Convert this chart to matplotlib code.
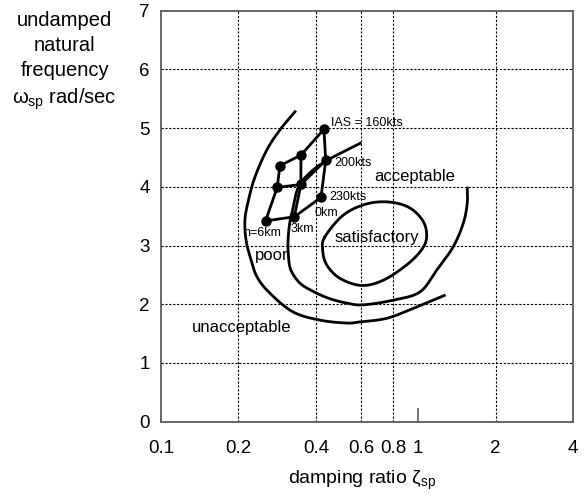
import numpy as np
import matplotlib
matplotlib.use('Agg')
import matplotlib.pyplot as plt

plt.rcParams['font.family'] = ['Liberation Sans', 'DejaVu Sans']
plt.rcParams['mathtext.fontset'] = 'custom'
plt.rcParams['mathtext.rm'] = 'Liberation Sans'
plt.rcParams['mathtext.it'] = 'Liberation Sans:italic'

# flight conditions: rows = altitude (6km, 3km, 0km), cols = IAS (230, 200, 160 kts)
zeta_6km = [0.255, 0.283, 0.290]
omega_6km = [3.42, 3.99, 4.36]
zeta_3km = [0.330, 0.350, 0.350]
omega_3km = [3.49, 4.04, 4.54]
zeta_0km = [0.419, 0.437, 0.430]
omega_0km = [3.82, 4.45, 4.98]

# handling quality boundaries traced as (zeta, omega)
sat_zeta = [0.434, 0.512, 0.631, 0.777, 0.929, 1.047, 1.079, 1.032, 0.902, 0.732,
            0.603, 0.497, 0.441, 0.425]
sat_omega = [3.15, 3.52, 3.71, 3.74, 3.64, 3.41, 3.15, 2.93, 2.67, 2.41,
             2.32, 2.44, 2.67, 2.93]

acc_zeta = [0.594, 0.497, 0.434, 0.391, 0.352, 0.337, 0.327, 0.317, 0.312, 0.313,
            0.320, 0.347, 0.390, 0.450, 0.527, 0.612, 0.800, 1.016, 1.18, 1.369,
            1.498, 1.552, 1.552]
acc_omega = [4.74, 4.57, 4.43, 4.29, 4.09, 3.92, 3.66, 3.40, 3.10, 2.82,
             2.58, 2.36, 2.22, 2.10, 2.02, 1.99, 2.07, 2.21, 2.58, 2.98,
             3.38, 3.72, 3.98]

poor_zeta = [0.332, 0.290, 0.258, 0.232, 0.219, 0.212, 0.214, 0.222, 0.236, 0.265,
             0.326, 0.415, 0.527, 0.594, 0.754, 0.957, 1.264]
poor_omega = [5.28, 4.97, 4.63, 4.17, 3.78, 3.44, 3.10, 2.81, 2.47, 2.19,
              1.87, 1.73, 1.68, 1.70, 1.76, 1.93, 2.15]

xticks = [0.1, 0.2, 0.4, 0.6, 0.8, 1, 2, 4]
xtick_labels = ['0.1', '0.2', '0.4', '0.6', '0.8', '1', '2', '4']
xgrid = [0.2, 0.4, 0.6, 0.8, 2]
yticks = [0, 1, 2, 3, 4, 5, 6, 7]


def smooth(zeta, omega, closed=False, n=12):
    # catmull-rom through the traced points, done in log-zeta so it looks right on the log axis
    p = np.column_stack([np.log10(zeta), omega])
    if closed:
        p = np.vstack([p[-1], p, p[0], p[1]])
    else:
        p = np.vstack([2 * p[0] - p[1], p, 2 * p[-1] - p[-2]])
    t = np.linspace(0, 1, n, endpoint=False)[:, None]
    out = []
    for i in range(1, len(p) - 2):
        p0, p1, p2, p3 = p[i - 1], p[i], p[i + 1], p[i + 2]
        seg = 0.5 * ((2 * p1) + (-p0 + p2) * t + (2 * p0 - 5 * p1 + 4 * p2 - p3) * t ** 2
                     + (-p0 + 3 * p1 - 3 * p2 + p3) * t ** 3)
        out.append(seg)
    out.append(p[-2][None, :])
    out = np.vstack(out)
    return 10 ** out[:, 0], out[:, 1]


fig = plt.figure(figsize=(5.87, 4.97), dpi=100)
ax = fig.add_axes([0.2743, 0.1515, 0.7018, 0.827])
ax.set_xscale('log')
ax.set_xlim(0.1, 4)
ax.set_ylim(0, 7)

grid_kw = dict(color='black', lw=0.8, ls=(0, (2, 1.5)), zorder=1)
for g in xgrid:
    ax.axvline(g, **grid_kw)
for g in yticks[1:-1]:
    ax.axhline(g, **grid_kw)
ax.axvline(1, ymin=0, ymax=0.032, color='0.35', lw=1.2)

ax.set_xticks(xticks)
ax.set_xticklabels(xtick_labels)
ax.xaxis.set_minor_locator(matplotlib.ticker.NullLocator())
ax.set_yticks(yticks)
ax.tick_params(axis='x', length=0, labelsize=13.5, pad=13.5)
ax.tick_params(axis='y', length=0, labelsize=13.5, pad=8)
for s in ax.spines.values():
    s.set_color('0.35')
    s.set_linewidth(1.3)

# boundaries
ax.plot(*smooth(sat_zeta, sat_omega, closed=True), color='black', lw=2, zorder=3)
ax.plot(*smooth(acc_zeta, acc_omega), color='black', lw=2, zorder=3)
ax.plot(*smooth(poor_zeta, poor_omega), color='black', lw=2, zorder=3)

# flight condition grid
alt_z = [zeta_6km, zeta_3km, zeta_0km]
alt_w = [omega_6km, omega_3km, omega_0km]
for zz, ww in zip(alt_z, alt_w):
    ax.plot(zz, ww, color='black', lw=2, marker='o', ms=6.5, zorder=4)
for i in range(3):
    ax.plot([z[i] for z in alt_z], [w[i] for w in alt_w], color='black', lw=2, zorder=4)

small = dict(fontsize=9, va='center', ha='left')
ax.text(0.457, 5.09, 'IAS = 160kts', **small)
ax.text(0.471, 4.40, '200kts', **small)
ax.text(0.450, 3.82, '230kts', **small)
ax.text(0.397, 3.56, '0km', **small)
ax.text(0.320, 3.28, '3km', **small)
ax.text(0.208, 3.21, 'h=6km', **small)

big = dict(fontsize=12, va='center', ha='left')
ax.text(0.673, 4.17, 'acceptable', **big)
ax.text(0.472, 3.14, 'satisfactory', **big)
ax.text(0.232, 2.83, 'poor', **big)
ax.text(0.132, 1.61, 'unacceptable', **big)

fig.text(0.617, 0.034, r'damping ratio ζ$_{\mathrm{sp}}$', fontsize=14, ha='center', va='center')
fig.text(0.110, 0.978, 'undamped\nnatural\nfrequency\n' + r'ω$_{\mathrm{sp}}$ rad/sec',
         fontsize=14.5, ha='center', va='top', multialignment='center', linespacing=1.4)

fig.savefig('out.png', dpi=100)
